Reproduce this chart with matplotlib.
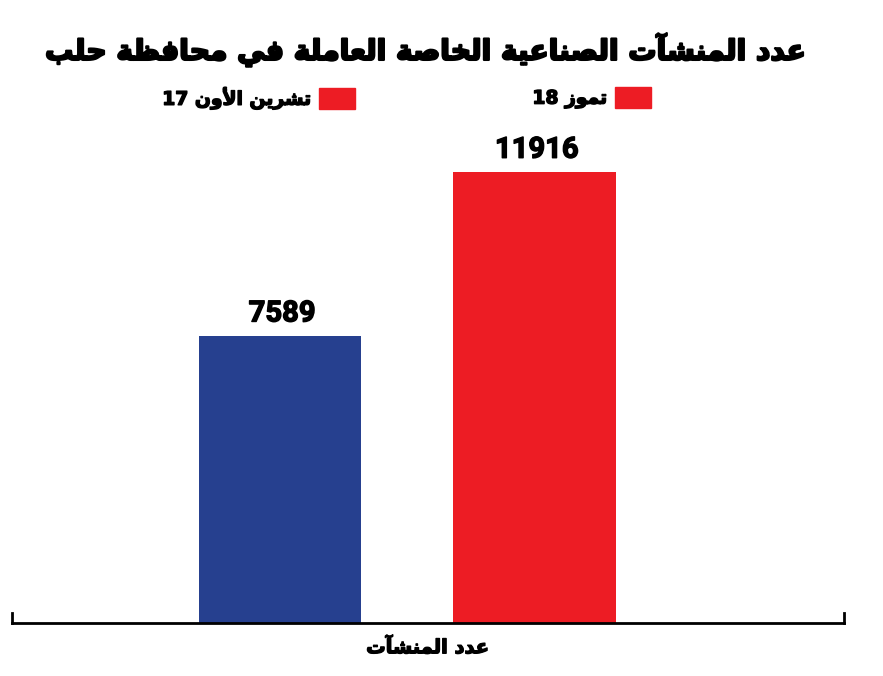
import re
import matplotlib
matplotlib.use('Agg')
import matplotlib.pyplot as plt
import matplotlib.patheffects as pe
from matplotlib.patches import Patch

# Arabic presentation forms: (isolated, final, initial, medial)
FORMS = {
    'ا': ('\uFE8D', '\uFE8E'),
    'آ': ('\uFE81', '\uFE82'),
    'أ': ('\uFE83', '\uFE84'),
    'ب': ('\uFE8F', '\uFE90', '\uFE91', '\uFE92'),
    'ة': ('\uFE93', '\uFE94'),
    'ت': ('\uFE95', '\uFE96', '\uFE97', '\uFE98'),
    'ح': ('\uFEA1', '\uFEA2', '\uFEA3', '\uFEA4'),
    'خ': ('\uFEA5', '\uFEA6', '\uFEA7', '\uFEA8'),
    'د': ('\uFEA9', '\uFEAA'),
    'ر': ('\uFEAD', '\uFEAE'),
    'ز': ('\uFEAF', '\uFEB0'),
    'ش': ('\uFEB5', '\uFEB6', '\uFEB7', '\uFEB8'),
    'ص': ('\uFEB9', '\uFEBA', '\uFEBB', '\uFEBC'),
    'ظ': ('\uFEC5', '\uFEC6', '\uFEC7', '\uFEC8'),
    'ع': ('\uFEC9', '\uFECA', '\uFECB', '\uFECC'),
    'ف': ('\uFED1', '\uFED2', '\uFED3', '\uFED4'),
    'ل': ('\uFEDD', '\uFEDE', '\uFEDF', '\uFEE0'),
    'م': ('\uFEE1', '\uFEE2', '\uFEE3', '\uFEE4'),
    'ن': ('\uFEE5', '\uFEE6', '\uFEE7', '\uFEE8'),
    'و': ('\uFEED', '\uFEEE'),
    'ي': ('\uFEF1', '\uFEF2', '\uFEF3', '\uFEF4'),
}
LAM_ALEF = {'ا': ('\uFEFB', '\uFEFC'), 'أ': ('\uFEF7', '\uFEF8'), 'آ': ('\uFEF5', '\uFEF6')}


def ar(text):
    # joins the letters and puts them in visual (left to right) order
    units = []
    i = 0
    while i < len(text):
        c = text[i]
        if c == 'ل' and i + 1 < len(text) and text[i + 1] in LAM_ALEF:
            units.append((c, LAM_ALEF[text[i + 1]]))
            i += 2
        else:
            units.append((c, FORMS.get(c)))
            i += 1
    res = []
    for k, (c, f) in enumerate(units):
        if f is None:
            res.append(c)
            continue
        prev = units[k - 1][1] if k > 0 else None
        nxt = units[k + 1][1] if k + 1 < len(units) else None
        j_prev = prev is not None and len(prev) == 4
        j_next = len(f) == 4 and nxt is not None
        if j_prev and j_next:
            res.append(f[3])
        elif j_prev:
            res.append(f[1])
        elif j_next:
            res.append(f[2])
        else:
            res.append(f[0])
    s = ''.join(res)
    parts = re.findall(r'[0-9]+|[^0-9]+', s)
    return ''.join(p if p.isdigit() else p[::-1] for p in reversed(parts))


# data
titolo = 'عدد المنشآت الصناعية الخاصة العاملة في محافظة حلب'
etichetta_x = 'عدد المنشآت'
periodi = ['تشرين الأون 17', 'تموز 18']
valori = [7589, 11916]
colori = ['#26408F', '#ED1C24']
colore_legenda = '#ED1C24'

AR_FONT = ['DejaVu Sans']
NUM_FONT = ['Roboto', 'DejaVu Sans']
spesso = [pe.withStroke(linewidth=1.0, foreground='black')]

fig = plt.figure(figsize=(8.83, 6.76), dpi=100)
ax = fig.add_axes([12 / 883, 53 / 676, 832 / 883, 483 / 676])

pos = [0, 1]
bars = ax.bar(pos, valori, width=0.64, color=colori)
for p, v in zip(pos, valori):
    ax.annotate(str(v), (p, v), xytext=(1.5, 6), textcoords='offset points',
                ha='center', va='bottom', fontsize=21, fontweight='bold',
                family=NUM_FONT, path_effects=spesso)

ax.set_xlim(-1.053, 2.216)
ax.set_ylim(0, 12764)
ax.set_xticks([])
ax.set_yticks([])
for s in ['top', 'right', 'left']:
    ax.spines[s].set_visible(False)
ax.spines['bottom'].set_linewidth(2)
# piccole stanghette alle estremità dell'asse
ax.plot([-1.053, -1.053], [0, 265], color='black', lw=2, clip_on=False)
ax.plot([2.216, 2.216], [0, 265], color='black', lw=2, clip_on=False)

xl = ax.set_xlabel(ar(etichetta_x), fontsize=14, fontweight='bold',
                   family=AR_FONT, labelpad=11)
xl.set_path_effects(spesso)

tit = fig.text(426 / 883, 1 - 50 / 676, ar(titolo), ha='center', va='center',
               fontsize=20, fontweight='bold', family=AR_FONT,
               path_effects=[pe.withStroke(linewidth=1.6, foreground='black')])
# adatto la dimensione del titolo alla larghezza del riferimento (~764 px)
r = fig.canvas.get_renderer()
w = tit.get_window_extent(r).width
tit.set_fontsize(20 * 760 / w)

# legenda: due pezzi, quadratino a destra del testo
fs = 13.5
fs_px = fs * 100 / 72
for testo, xr in zip(periodi, [355, 651]):
    leg = fig.legend([Patch(color=colore_legenda)], [ar(testo)],
                     loc='center right', bbox_to_anchor=(xr / 883, 1 - 98 / 676),
                     frameon=False, markerfirst=False, borderpad=0,
                     borderaxespad=0, handlelength=36 / fs_px,
                     handleheight=24 / fs_px, handletextpad=8 / fs_px,
                     prop={'family': AR_FONT, 'weight': 'bold', 'size': fs})
    for t in leg.get_texts():
        t.set_path_effects(spesso)

fig.savefig('out.png', dpi=100)
